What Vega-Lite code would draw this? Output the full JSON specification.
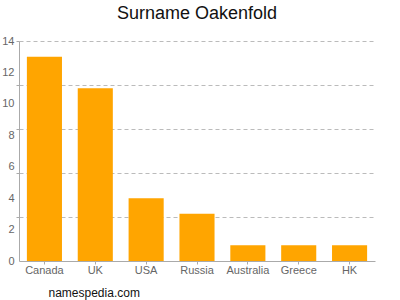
{
  "$schema": "https://vega.github.io/schema/vega-lite/v6.json",
  "width": 356,
  "height": 220,
  "autosize": {"type": "none"},
  "padding": {"left": 19, "top": 41, "right": 25, "bottom": 39},
  "background": "white",
  "title": {"text": "Surname Oakenfold", "font": "Liberation Sans", "fontSize": 18, "fontWeight": "normal", "color": "#111", "anchor": "middle", "offset": 12},
  "data": {"values": [
    {"country": "Canada", "count": 13},
    {"country": "UK", "count": 11},
    {"country": "USA", "count": 4},
    {"country": "Russia", "count": 3},
    {"country": "Australia", "count": 1},
    {"country": "Greece", "count": 1},
    {"country": "HK", "count": 1}
  ]},
  "config": {"view": {"stroke": null}},
  "layer": [
    {
      "mark": {"type": "bar", "color": "#FFA500"},
      "encoding": {
        "x": {"field": "country", "type": "nominal", "sort": null,
          "scale": {"paddingInner": 0.31, "paddingOuter": 0.155},
          "axis": {"labelAngle": 0, "labelFont": "Liberation Sans", "labelFontSize": 11, "labelColor": "#666", "domainColor": "#aaa", "tickColor": "#aaa", "tickSize": 3, "labelPadding": 0,
            "title": "namespedia.com", "titleFont": "Liberation Sans", "titleFontSize": 12, "titleFontWeight": "normal", "titleColor": "#111", "titleAnchor": "start", "titleAlign": "left", "titleBaseline": "alphabetic", "titleX": 29, "titleY": 35}},
        "y": {"field": "count", "type": "quantitative",
          "scale": {"domain": [0, 14], "nice": false},
          "axis": {"values": [0, 2, 4, 6, 8, 10, 12, 14], "grid": false, "ticks": false, "tickSize": 0, "labelPadding": 5, "labelFont": "Liberation Sans", "labelFontSize": 11, "labelColor": "#666", "domainColor": "#aaa", "title": null}}
      }
    },
    {
      "mark": {"type": "bar", "opacity": 0},
      "encoding": {
        "x": {"field": "country", "type": "nominal", "sort": null},
        "y": {"field": "count", "type": "quantitative",
          "axis": {"orient": "left", "values": [2.8, 5.6, 8.4, 11.2, 14], "grid": true, "gridColor": "#bbb", "gridDash": [4, 3], "labels": false, "domain": false, "tickColor": "#aaa", "tickSize": 3, "title": null}}
      }
    }
  ],
  "resolve": {"axis": {"y": "independent"}}
}
